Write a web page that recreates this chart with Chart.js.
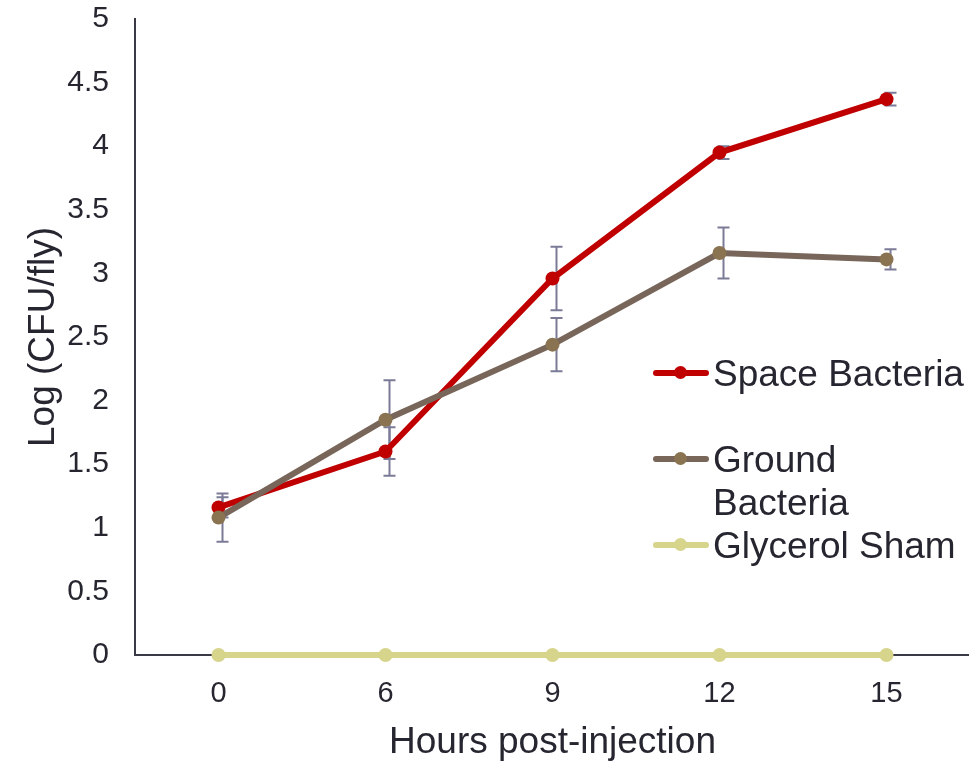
<!DOCTYPE html>
<html>
<head>
<meta charset="utf-8">
<script src="https://cdn.jsdelivr.net/npm/chart.js@4/dist/chart.umd.min.js"></script>
<style>
  html, body { margin: 0; background: #fff; overflow: hidden; }
  #wrap { position: relative; width: 977px; height: 761px; }
  .leg { position: absolute; left: 653px; font-family: "Liberation Sans", Arial, sans-serif;
         font-size: 37px; color: #262630; line-height: 43px; }
  .leg .item { position: relative; padding-left: 60px; }
  .leg .sym { position: absolute; left: 0; top: 18px; width: 56px; height: 6px; border-radius: 3px; }
  .leg .dot { position: absolute; left: 21px; top: -4px; width: 13px; height: 13px; border-radius: 50%; }
</style>
</head>
<body>
<div id="wrap">
  <canvas id="mycanvas"></canvas>
  <div class="leg" id="legend" style="top:352px"></div>
</div>
<script>
// data
var hours   = ['0', '6', '9', '12', '15'];
var space   = [1.16, 1.60, 2.96, 3.95, 4.37];
var spaceEr = [0.08, 0.19, 0.25, 0.05, 0.05];
var ground  = [1.08, 1.85, 2.44, 3.16, 3.11];
var groundEr= [0.19, 0.31, 0.21, 0.20, 0.08];
var sham    = [0, 0, 0, 0, 0];
var shamEr  = [0, 0, 0, 0, 0];
var yTicks  = [0, 0.5, 1, 1.5, 2, 2.5, 3, 3.5, 4, 4.5, 5];

var names = ['Space Bacteria', 'Ground Bacteria', 'Glycerol Sham'];
var lineCols = ['#C00000', '#776659', '#D7D48B'];
var dotCols  = ['#C00000', '#8A7350', '#D7D48B'];

// error bars, drawn under the lines
var errorBars = {
  id: 'errorBars',
  beforeDatasetsDraw: function(chart) {
    var ctx = chart.ctx, y = chart.scales.y;
    ctx.save();
    ctx.strokeStyle = '#7B7B98';
    ctx.lineWidth = 2;
    chart.data.datasets.forEach(function(ds, i) {
      var meta = chart.getDatasetMeta(i);
      meta.data.forEach(function(pt, j) {
        var e = ds.err[j];
        if (!e) return;
        var x = pt.x + 4;
        var top = y.getPixelForValue(ds.data[j] + e);
        var bot = y.getPixelForValue(ds.data[j] - e);
        ctx.beginPath();
        ctx.moveTo(x, top); ctx.lineTo(x, bot);
        ctx.moveTo(x - 6, top); ctx.lineTo(x + 6, top);
        ctx.moveTo(x - 6, bot); ctx.lineTo(x + 6, bot);
        ctx.stroke();
      });
    });
    ctx.restore();
  }
};

function mk(i, data, err) {
  return {
    label: names[i], data: data, err: err,
    borderColor: lineCols[i], backgroundColor: dotCols[i],
    pointBackgroundColor: dotCols[i], pointBorderColor: dotCols[i],
    borderWidth: 6, pointRadius: 7, pointBorderWidth: 0, tension: 0, clip: false
  };
}

var ctx = document.getElementById('mycanvas');
var mychart = new Chart(ctx, {
  type: 'line',
  data: {
    labels: hours,
    datasets: [mk(2, sham, shamEr), mk(1, ground, groundEr), mk(0, space, spaceEr)]
  },
  plugins: [errorBars],
  options: {
    responsive: true,
    maintainAspectRatio: false,
    animation: false,
    events: [],
    layout: { padding: { top: 19, right: 0, left: 0, bottom: 0 } },
    plugins: { legend: { display: false }, tooltip: { enabled: false } },
    scales: {
      x: {
        offset: true,
        grid: { display: false, drawTicks: false, offset: true },
        border: { display: true, color: '#3A3A44', width: 2 },
        ticks: { color: '#262630', padding: 22, font: { family: 'Liberation Sans', size: 29 } },
        title: { display: true, text: 'Hours post-injection', color: '#262630', padding: 0,
                 font: { family: 'Liberation Sans', size: 37, lineHeight: 1 } },
        afterFit: function(s) { s.height = 106; s.paddingLeft = 0; s.paddingRight = 0; }
      },
      y: {
        min: 0, max: 5,
        afterBuildTicks: function(s) { s.ticks = yTicks.map(function(v) { return { value: v }; }); },
        grid: { display: false, drawTicks: false },
        border: { display: true, color: '#3A3A44', width: 2 },
        ticks: { color: '#262630', padding: 26, callback: function(v) { return String(v); },
                 font: { family: 'Liberation Sans', size: 30 } },
        title: { display: true, text: 'Log (CFU/fly)', color: '#262630', padding: { top: 25, bottom: 0 },
                 font: { family: 'Liberation Sans', size: 37, lineHeight: 1 } },
        afterFit: function(s) { s.width = 135; s.paddingTop = 0; s.paddingBottom = 0; }
      }
    }
  }
});

// legend as html text, same order as the figure
var leg = document.getElementById('legend');
var order = [0, -1, 1, 2];
order.forEach(function(i) {
  var d = document.createElement('div');
  d.className = 'item';
  if (i < 0) { d.innerHTML = '&nbsp;'; leg.appendChild(d); return; }
  var txt = names[i] == 'Ground Bacteria' ? 'Ground<br>Bacteria' : names[i];
  d.innerHTML = '<span class="sym" style="background:' + lineCols[i] + '"><span class="dot" style="background:' +
    dotCols[i] + '"></span></span>' + txt;
  leg.appendChild(d);
});
</script>
</body>
</html>
